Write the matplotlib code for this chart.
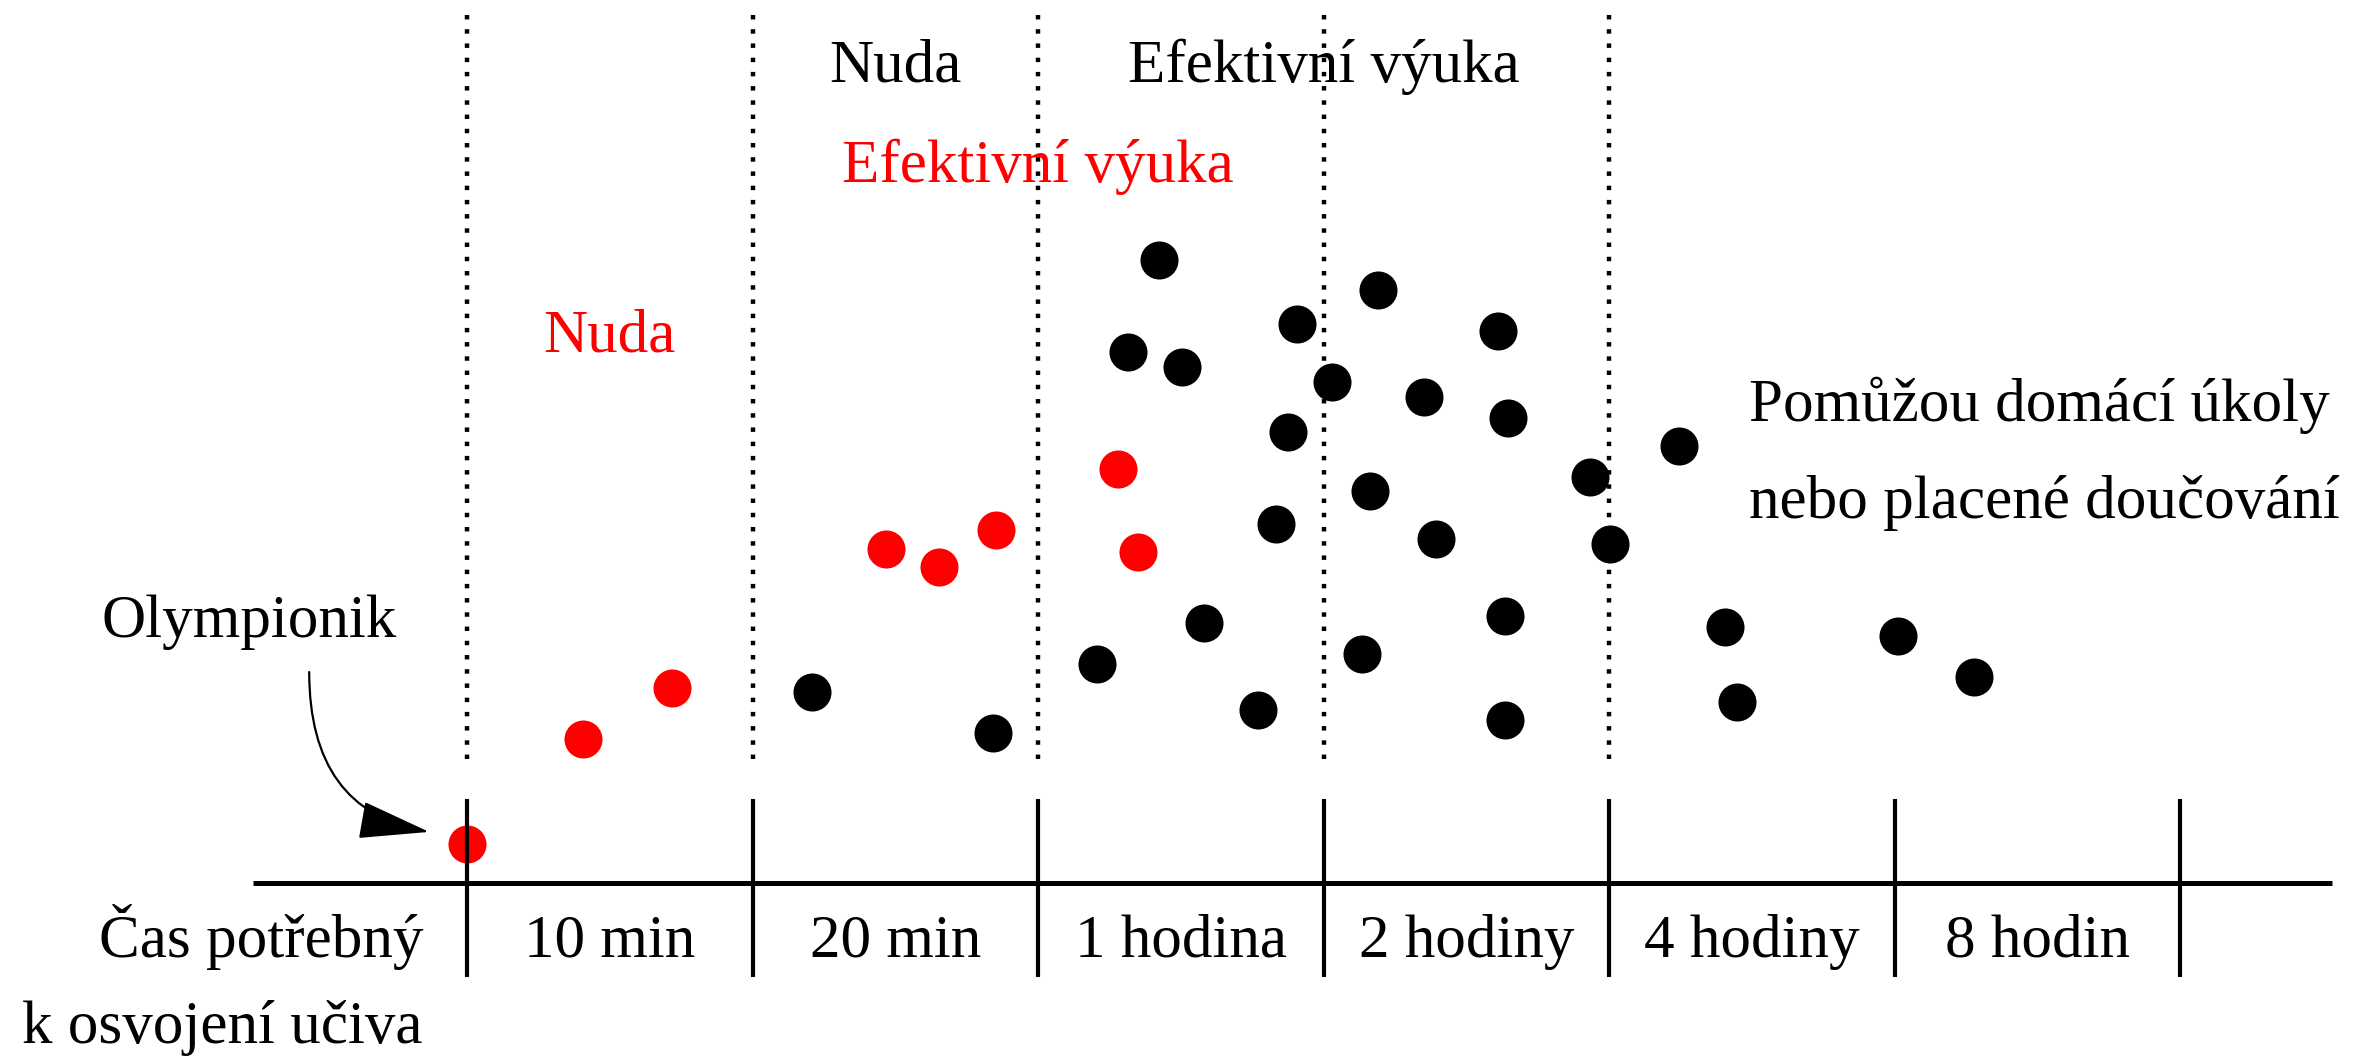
import matplotlib.pyplot as plt
from matplotlib.patches import FancyArrowPatch

# positions: x in columns (0 = first tick), y in "levels" above the time axis
red_x = [0.00, 0.406, 0.718, 1.468, 1.653, 1.853, 2.280, 2.350]
red_y = [0.137, 0.504, 0.683, 1.170, 1.107, 1.236, 1.450, 1.159]

black_x = [1.208, 1.842, 2.424, 2.315, 2.504, 2.907, 3.030, 2.876, 2.834, 2.581,
           2.207, 2.771, 3.191, 3.611, 3.352, 3.646, 3.163, 3.394, 3.636, 3.135,
           3.636, 3.933, 4.245, 4.004, 4.406, 4.448, 5.012, 5.278]
black_y = [0.669, 0.525, 2.182, 1.860, 1.807, 1.958, 1.755, 1.580, 1.257, 0.911,
           0.767, 0.606, 2.077, 1.933, 1.702, 1.629, 1.373, 1.205, 0.935, 0.802,
           0.571, 1.422, 1.531, 1.187, 0.897, 0.634, 0.865, 0.722]

column_labels = ["10 min", "20 min", "1 hodina", "2 hodiny", "4 hodiny", "8 hodin"]
n_ticks = len(column_labels) + 1
n_dotted = 5

plt.rcParams['font.family'] = ['Liberation Serif', 'DejaVu Serif']
FS = 44

fig = plt.figure(figsize=(23.79, 10.56), dpi=100)
ax = fig.add_axes([0, 0, 1, 1])
ax.set_xlim(-1.636, 6.697)
ax.set_ylim(-0.606, 3.093)
ax.axis('off')

# red dots sit under the lines, black ones over them
ax.scatter(red_x, red_y, s=750, color='#ff0000', linewidths=0, zorder=1)

ax.plot([-0.75, 6.532], [0, 0], color='black', lw=3.6, solid_capstyle='butt', zorder=2)
for i in range(n_ticks):
    ax.plot([i, i], [-0.329, 0.294], color='black', lw=3.0, solid_capstyle='butt', zorder=2)
for i in range(n_dotted):
    ax.plot([i, i], [0.434, 3.040], color='black', lw=3.2,
            linestyle=(0, (1, 2.2)), dash_capstyle='butt', zorder=2)

ax.scatter(black_x, black_y, s=750, color='black', linewidths=0, zorder=3)

# axis texts
for i, lab in enumerate(column_labels):
    ax.text(i + 0.5, -0.259, lab, fontsize=FS, ha='center', va='baseline')
ax.text(-0.154, -0.259, "Čas potřebný", fontsize=FS, ha='right', va='baseline')
ax.text(-0.157, -0.560, "k osvojení učiva", fontsize=FS, ha='right', va='baseline')

ax.text(-0.764, 0.862, "Olympionik", fontsize=FS, ha='center', va='baseline')
ax.text(0.5, 1.860, "Nuda", fontsize=FS, ha='center', va='baseline', color='#ff0000')
ax.text(2.0, 2.455, "Efektivní výuka", fontsize=FS, ha='center', va='baseline', color='#ff0000')
ax.text(1.5, 2.806, "Nuda", fontsize=FS, ha='center', va='baseline')
ax.text(3.0, 2.806, "Efektivní výuka", fontsize=FS, ha='center', va='baseline')
ax.text(4.49, 1.618, "Pomůžou domácí úkoly", fontsize=FS, ha='left', va='baseline')
ax.text(4.49, 1.278, "nebo placené doučování", fontsize=FS, ha='left', va='baseline')

arrow = FancyArrowPatch((-0.553, 0.739), (-0.133, 0.179),
                        connectionstyle="angle3,angleA=90,angleB=-10",
                        arrowstyle="-|>,head_length=1.5,head_width=0.4",
                        mutation_scale=30, color='black', lw=1.6,
                        shrinkA=0, shrinkB=0)
ax.add_patch(arrow)

fig.savefig('out.png', dpi=100)
